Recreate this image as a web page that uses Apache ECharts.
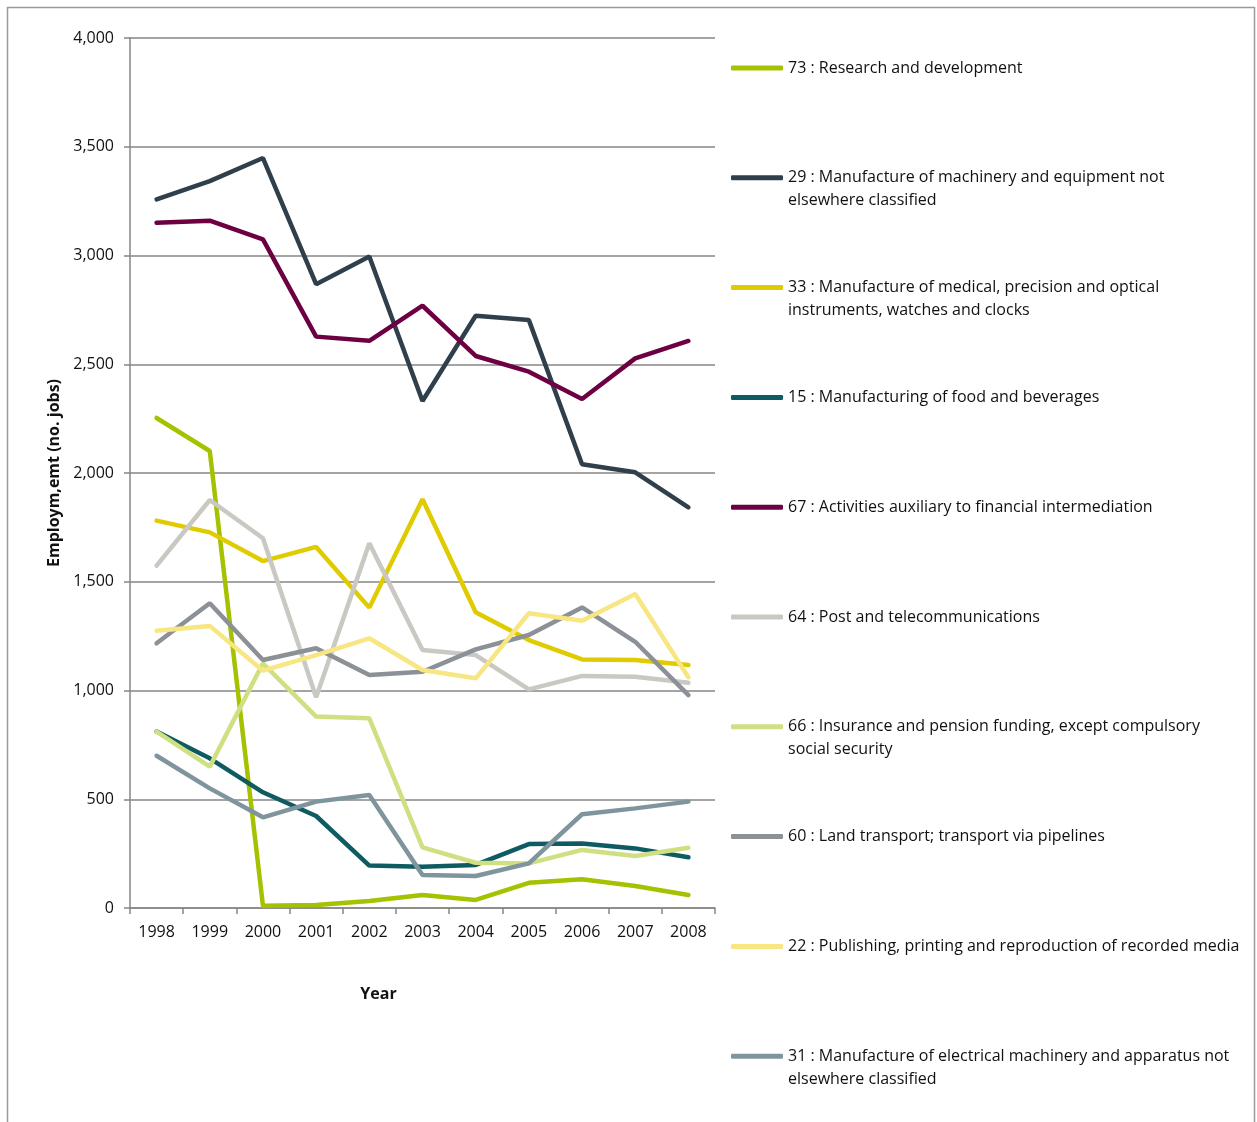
<!DOCTYPE html>
<html>
<head>
<meta charset="utf-8">
<script src="https://cdn.jsdelivr.net/npm/echarts@6/dist/echarts.min.js"></script>
<style>
  html, body { margin: 0; padding: 0; background: #fff; }
  #chart { width: 1257px; height: 1122px; }
</style>
</head>
<body>
<div id="chart"></div>
<script>
// 年份
var years = ['1998', '1999', '2000', '2001', '2002', '2003', '2004', '2005', '2006', '2007', '2008'];

// 各行业就业人数
var rd          = [2253, 2101, 10, 14, 32, 60, 37, 116, 132, 101, 60];
var machinery   = [3258, 3342, 3448, 2868, 2995, 2331, 2723, 2703, 2040, 2003, 1842];
var medical     = [1781, 1727, 1595, 1660, 1381, 1879, 1360, 1232, 1143, 1140, 1117];
var food        = [811, 688, 532, 423, 195, 190, 198, 294, 297, 274, 233];
var financial   = [3151, 3160, 3074, 2627, 2608, 2769, 2538, 2466, 2340, 2527, 2607];
var post        = [1574, 1876, 1700, 969, 1677, 1186, 1163, 1005, 1067, 1063, 1036];
var insurance   = [811, 650, 1125, 880, 872, 279, 208, 205, 267, 239, 277];
var land        = [1217, 1401, 1140, 1194, 1071, 1086, 1189, 1255, 1382, 1224, 979];
var publishing  = [1275, 1297, 1091, 1163, 1240, 1094, 1056, 1355, 1321, 1444, 1061];
var electrical  = [700, 550, 417, 489, 520, 152, 147, 205, 431, 458, 489];

var names = [
  '73 : Research and development',
  '29 : Manufacture of machinery and equipment not\nelsewhere classified',
  '33 : Manufacture of medical, precision and optical\ninstruments, watches and clocks',
  '15 : Manufacturing of food and beverages',
  '67 : Activities auxiliary to financial intermediation',
  '64 : Post and telecommunications',
  '66 : Insurance and pension funding, except compulsory\nsocial security',
  '60 : Land transport; transport via pipelines',
  '22 : Publishing, printing and reproduction of recorded media',
  '31 : Manufacture of electrical machinery and apparatus not\nelsewhere classified'
];
var values = [rd, machinery, medical, food, financial, post, insurance, land, publishing, electrical];
var colors = ['#a5c100', '#2f3f4b', '#e0cb00', '#0f5b62', '#6c0043',
              '#c9c8c2', '#cfe082', '#8b9196', '#f7e682', '#7f959d'];

var FONT = 'Open Sans';
var LH = 23;

var myChart = echarts.init(document.getElementById('chart'));

var series = [];
var legends = [];
for (var i = 0; i < names.length; i++) {
  series.push({
    name: names[i],
    type: 'line',
    data: values[i],
    symbol: 'none',
    lineStyle: { width: 4.5, color: colors[i], cap: 'round' },
    itemStyle: { color: colors[i] },
    emphasis: { disabled: true }
  });
  var twoLine = names[i].indexOf('\n') >= 0;
  var yc = 68 + i * 109.8;
  legends.push({
    data: [names[i]],
    left: 731,
    top: twoLine ? yc - LH * 1.5 : yc - LH / 2,
    padding: 0,
    itemWidth: 52,
    itemHeight: 5,
    icon: 'roundRect',
    selectedMode: false,
    formatter: function (n) { return n.indexOf('\n') >= 0 ? '\n' + n : n; },
    textStyle: { fontFamily: FONT, fontSize: 16, color: '#111', lineHeight: LH }
  });
}

var option = {
  animation: false,
  backgroundColor: '#fff',
  graphic: [{
    type: 'rect',
    shape: { x: 7.5, y: 7.5, width: 1247, height: 1140 },
    style: { fill: 'none', stroke: '#9a9a9a', lineWidth: 1.5 },
    silent: true
  }],
  grid: { left: 130, right: 542, top: 38, bottom: 214, containLabel: false },
  legend: legends,
  xAxis: {
    type: 'category',
    data: years,
    boundaryGap: true,
    name: 'Year',
    nameLocation: 'middle',
    nameGap: 78,
    nameTextStyle: { fontFamily: FONT, fontSize: 16, fontWeight: 'bold', color: '#111', padding: [0, 88, 0, 0] },
    axisLine: { show: true, lineStyle: { color: '#868686', width: 1.5 } },
    axisTick: { show: true, interval: 0, length: 6, lineStyle: { color: '#868686', width: 1.5 } },
    axisLabel: { interval: 0, margin: 16, fontFamily: FONT, fontSize: 16, color: '#111' }
  },
  yAxis: {
    type: 'value',
    min: 0,
    max: 4000,
    interval: 500,
    name: 'Employm,emt (no. jobs)',
    nameLocation: 'middle',
    nameGap: 68,
    nameRotate: 90,
    nameTextStyle: { fontFamily: FONT, fontSize: 16, fontWeight: 'bold', color: '#111' },
    axisLine: { show: true, lineStyle: { color: '#868686', width: 1.5 } },
    axisTick: { show: true, length: 6, lineStyle: { color: '#868686', width: 1.5 } },
    splitLine: { show: true, lineStyle: { color: '#868686', width: 1.5 } },
    axisLabel: {
      margin: 16,
      fontFamily: FONT,
      fontSize: 16,
      color: '#111',
      formatter: function (v) { return String(v).replace(/\B(?=(\d{3})+(?!\d))/g, ','); }
    }
  },
  series: series
};

myChart.setOption(option);
</script>
</body>
</html>
